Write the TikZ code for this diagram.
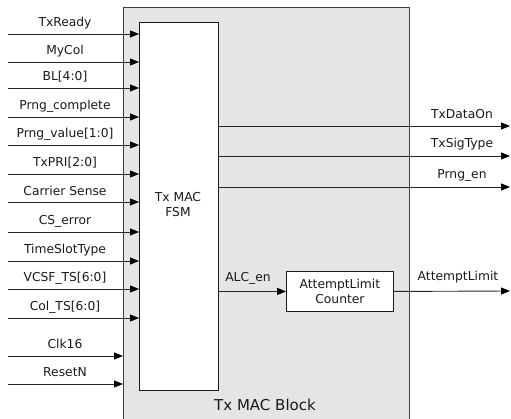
\documentclass[tikz,border=0pt]{standalone}
\usepackage{fontspec}
\setmainfont{DejaVu Sans}
\usetikzlibrary{arrows.meta}
\begin{document}
\begin{tikzpicture}[x=1pt,y=-1pt,
  lbl/.style={font=\fontsize{12.3}{14}\selectfont, text=black!90, inner sep=0pt},
  sig/.style={draw=black!85, line width=0.9pt, -{Triangle[length=9pt,width=7pt,fill=black,color=black]}},
  wire/.style={draw=black!85, line width=0.9pt}]
\clip (0,0) rectangle (511,419);
\useasboundingbox (0,0) rectangle (511,419);
\node[draw=black!75, line width=0.9pt, fill=black!10, minimum width=286pt, minimum height=430pt, anchor=north west, inner sep=0pt] (blk) at (123,7) {};
\node[draw=black!90, line width=0.9pt, fill=white, minimum width=79pt, minimum height=368pt, anchor=north west, inner sep=0pt] (fsm) at (139,22) {};
\node[lbl, align=center] (fsmlbl) at (178,205) {Tx MAC\\[1pt]FSM};
\node[draw=black!90, line width=0.9pt, fill=white, minimum width=107pt, minimum height=40pt, anchor=north west, inner sep=0pt] (cnt) at (286,271) {};
\node[lbl, align=center] (cntlbl) at (cnt.center) {AttemptLimit\\[1pt]Counter};
\node[lbl, font=\fontsize{15}{17}\selectfont] (blklbl) at (265,405) {Tx MAC Block};
% inputs to FSM
\foreach \y/\t [count=\i] in {34/TxReady, 62/MyCol, 88/{BL[4:0]}, 117/Prng\_complete, 145/{Prng\_value[1:0]}, 174/{TxPRI[2:0]}, 202/Carrier Sense, 232/CS\_error, 261/TimeSlotType, 289/{VCSF\_TS[6:0]}, 318/{Col\_TS[6:0]}}{
  \coordinate (in\i) at (8,\y);
  \draw[sig] (in\i) -- (in\i -| fsm.west);
  \node[lbl] (inl\i) at (65,\y-11) {\t};
}
% inputs to block
\foreach \y/\t [count=\i] in {356/Clk16, 384/ResetN}{
  \coordinate (cin\i) at (8,\y);
  \draw[sig] (cin\i) -- (cin\i -| blk.west);
  \node[lbl] (cinl\i) at (65,\y-12) {\t};
}
% outputs
\foreach \y/\t [count=\i] in {126/TxDataOn, 156/TxSigType, 187/Prng\_en}{
  \coordinate (out\i) at (510,\y);
  \draw[sig] (out\i -| fsm.east) -- (out\i);
  \node[lbl] (outl\i) at (462,\y-12) {\t};
}
\draw[sig] (fsm.east |- cnt.west) -- (cnt.west);
\node[lbl] (alc) at (248,278) {ALC\_en};
\coordinate (aout) at (510,291);
\draw[sig] (cnt.east) -- (aout);
\node[lbl] (aoutl) at (458,277) {AttemptLimit};
\end{tikzpicture}
\end{document}
